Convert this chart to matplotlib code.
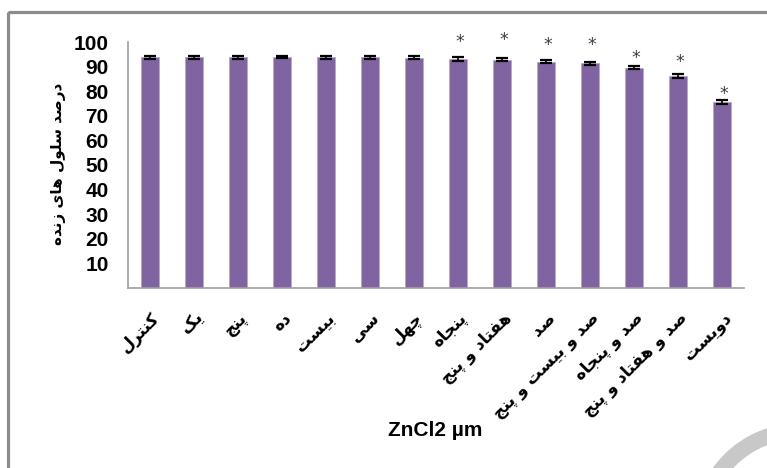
import matplotlib
matplotlib.use("Agg")
import matplotlib.pyplot as plt
from matplotlib.patches import Rectangle, Wedge

# ZnCl2 concentration labels (Persian) and viability values
doses = ["کنترل", "یک", "پنج", "ده", "بیست", "سی", "چهل", "پنجاه",
         "هفتاد و پنج", "صد", "صد و بیست و پنج", "صد و پنجاه",
         "صد و هفتاد و پنج", "دویست"]
viability = [93.8, 93.8, 93.8, 93.8, 93.8, 93.7, 93.6, 93.0,
             92.8, 92.0, 91.3, 89.6, 86.2, 75.6]
errors = [0.7, 0.6, 0.6, 0.5, 0.6, 0.6, 0.6, 0.7,
          0.7, 0.7, 0.7, 0.6, 0.7, 0.7]
# bars marked as significant, with the height of their star
star_idx = [7, 8, 9, 10, 11, 12, 13]
star_y = [100.0, 100.8, 98.8, 98.7, 93.5, 91.9, 78.9]
yticks = [10, 20, 30, 40, 50, 60, 70, 80, 90, 100]

ylabel_fa = "درصد سلول های زنده"
xlabel = "ZnCl2 µm"

# --- minimal Persian shaping: contextual forms + right-to-left order ---
DUAL = {
    "ب": "\uFE8F\uFE90\uFE91\uFE92", "پ": "\uFB56\uFB57\uFB58\uFB59",
    "ت": "\uFE95\uFE96\uFE97\uFE98", "ج": "\uFE9D\uFE9E\uFE9F\uFEA0",
    "چ": "\uFB7A\uFB7B\uFB7C\uFB7D", "س": "\uFEB1\uFEB2\uFEB3\uFEB4",
    "ص": "\uFEB9\uFEBA\uFEBB\uFEBC", "ف": "\uFED1\uFED2\uFED3\uFED4",
    "ک": "\uFB8E\uFB8F\uFB90\uFB91", "ل": "\uFEDD\uFEDE\uFEDF\uFEE0",
    "ن": "\uFEE5\uFEE6\uFEE7\uFEE8", "ه": "\uFEE9\uFEEA\uFEEB\uFEEC",
    "ی": "\uFBFC\uFBFD\uFBFE\uFBFF",
}
RIGHT = {
    "ا": "\uFE8D\uFE8E", "د": "\uFEA9\uFEAA", "ر": "\uFEAD\uFEAE",
    "ز": "\uFEAF\uFEB0", "و": "\uFEED\uFEEE",
}


def shape(text):
    out = []
    for i, ch in enumerate(text):
        prev = text[i - 1] if i > 0 else ""
        nxt = text[i + 1] if i + 1 < len(text) else ""
        join_prev = prev in DUAL
        if ch in DUAL:
            join_next = nxt in DUAL or nxt in RIGHT
            forms = DUAL[ch]
            if join_prev and join_next:
                out.append(forms[3])
            elif join_prev:
                out.append(forms[1])
            elif join_next:
                out.append(forms[2])
            else:
                out.append(forms[0])
        elif ch in RIGHT:
            out.append(RIGHT[ch][1] if join_prev else RIGHT[ch][0])
        else:
            out.append(ch)
    return "".join(reversed(out))


W, H = 767, 468
fig = plt.figure(figsize=(W / 100, H / 100), dpi=100)

# background layer in pixel units: outer frame and corner arc
bg = fig.add_axes([0, 0, 1, 1], zorder=0)
bg.set_xlim(0, W)
bg.set_ylim(H, 0)
bg.axis("off")
bg.add_patch(Rectangle((8, 12), 820, 520, fill=False,
                       edgecolor="#8c8c8c", linewidth=2.3))
bg.add_patch(Wedge((800, 530), 107, 180, 270, width=16,
                   facecolor="#c8c8c8", edgecolor="none"))

ax = fig.add_axes([128 / W, 1 - 288 / H, (744 - 128) / W, (288 - 42) / H],
                  zorder=1)
ax.patch.set_alpha(0)

x = list(range(len(doses)))
ax.bar(x, viability, width=0.39, color="#8064A2",
       edgecolor="#b8a9cc", linewidth=0.6, zorder=2)
ax.errorbar(x, viability, yerr=errors, fmt="none", ecolor="black",
            elinewidth=1.2, capsize=4.5, capthick=1.6, zorder=3)

for i, sy in zip(star_idx, star_y):
    ax.text(i + 0.05, sy, "*", ha="center", va="center",
            fontsize=12.5, color="#404040", family="DejaVu Sans")

ax.set_xlim(-0.5, len(doses) - 0.5)
ax.set_ylim(0, 100)
ax.set_yticks(yticks)
ax.set_yticklabels([str(v) for v in yticks], fontsize=15,
                   fontweight="bold", family="Liberation Sans")
ax.tick_params(axis="y", length=0, pad=14)
ax.set_xticks(x)
ax.set_xticklabels([shape(d) for d in doses], rotation=45, ha="right",
                   va="top", rotation_mode="anchor", fontsize=12,
                   fontweight="bold", family="DejaVu Sans")
ax.tick_params(axis="x", length=0, pad=15)

for side in ("top", "right"):
    ax.spines[side].set_visible(False)
for side in ("left", "bottom"):
    ax.spines[side].set_color("#a0a0a0")
    ax.spines[side].set_linewidth(1.2)

fig.text(58 / W, 1 - 164 / H, shape(ylabel_fa), rotation=90,
         ha="center", va="center", fontsize=11, fontweight="bold",
         family="DejaVu Sans")
fig.text(435 / W, 1 - 431 / H, xlabel, ha="center", va="center",
         fontsize=15, fontweight="bold", family="Liberation Sans")

fig.savefig("out.png", dpi=100)
